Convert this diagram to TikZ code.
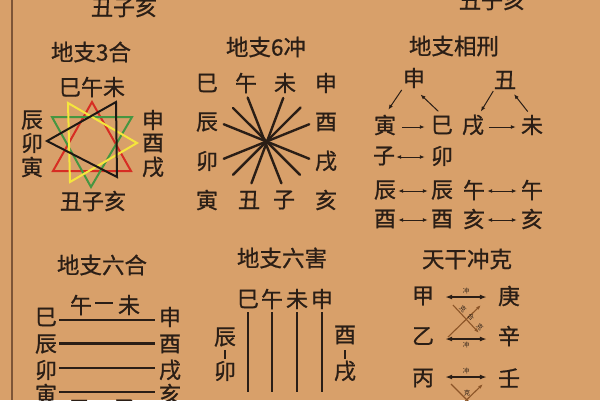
\documentclass[tikz,border=0pt]{standalone}
\usepackage{fontspec}
\newfontfamily\cjk{Noto Sans CJK SC}[FakeBold=0.8]
\newfontfamily\cjksmall{Noto Sans CJK SC}
\usetikzlibrary{arrows.meta,calc}
\definecolor{bg}{RGB}{216,160,106}
\definecolor{ink}{RGB}{42,30,22}
\definecolor{brn}{RGB}{140,85,40}
\definecolor{edge}{RGB}{125,85,55}
\definecolor{tred}{RGB}{215,45,35}
\definecolor{tgreen}{RGB}{70,150,65}
\definecolor{tyellow}{RGB}{245,230,60}
\definecolor{tblack}{RGB}{30,24,20}
\begin{document}
\begin{tikzpicture}[x=1pt,y=-1pt,
  ch/.style={font=\cjk\fontsize{22}{22}\selectfont, text=ink, inner sep=0pt, minimum width=22pt, minimum height=20pt},
  ttl/.style={ch, font=\cjk\fontsize{22.5}{23}\selectfont},
  tiny/.style={font=\cjksmall\fontsize{6.5}{6.5}\selectfont, text=ink, inner sep=0pt},
  spoke/.style={draw=ink, line width=2.4pt, line cap=round},
  rel/.style={draw=ink, line width=1pt, -{Latex[length=5pt,width=4pt]}},
  dbl/.style={draw=ink, line width=1pt, {Latex[length=5pt,width=4pt]}-{Latex[length=5pt,width=4pt]}},
  chong/.style={draw=ink, line width=1.4pt, {Latex[length=7pt,width=5pt]}-{Latex[length=7pt,width=5pt]}},
  ke/.style={draw=brn, line width=1.1pt},
  bar/.style={draw=ink, line width=2.6pt},
  tri/.style={line width=2pt, line join=miter},
]
\useasboundingbox (0,0) rectangle (600,400);
\clip (0,0) rectangle (600,400);
\fill[bg] (0,0) rectangle (600,400);
\draw[edge, line width=1.2pt] (12,0) -- (12,400);

% top partial texts
\node[ch] (t1) at (124,7) {丑子亥};
\node[ch] (t2) at (492,0) {丑子亥};

% ---------- 地支3合 ----------
\node[ttl] (h3) at (91,52) {地支3合};
\node[ch] (sw) at (92,87) {巳午未};
\node[ch] (sChen) at (32,120) {辰};
\node[ch] (sMao) at (32,143) {卯};
\node[ch] (sYin) at (32,167) {寅};
\node[ch] (sShen) at (153,120) {申};
\node[ch] (sYou) at (153,143) {酉};
\node[ch] (sXu) at (153,167) {戌};
\node[ch] (sczh) at (93,201) {丑子亥};
\draw[tri, tred] (92,102) -- (53,171) -- (131,171) -- cycle;
\draw[tri, tgreen] (52,117) -- (132,117) -- (91,187) -- cycle;
\draw[tri, tyellow] (68,103) -- (137,143) -- (70,182) -- cycle;
\draw[tri, tblack] (116,102) -- (47,141) -- (117,177) -- cycle;

% ---------- 地支6冲 ----------
\node[ttl] (h6) at (266,47) {地支6冲};
\node[ch] (cSi) at (207,83) {巳};
\node[ch] (cWu) at (246,83) {午};
\node[ch] (cWei) at (285,83) {未};
\node[ch] (cShen) at (326,83) {申};
\node[ch] (cChen) at (207,122) {辰};
\node[ch] (cYou) at (326,122) {酉};
\node[ch] (cMao) at (207,161) {卯};
\node[ch] (cXu) at (326,161) {戌};
\node[ch] (cYin) at (207,200) {寅};
\node[ch] (cChou) at (249,200) {丑};
\node[ch] (cZi) at (284,200) {子};
\node[ch] (cHai) at (326,200) {亥};
\draw[spoke, shorten <=4.5pt, shorten >=7pt] (cWu.south) -- (cZi.north);
\draw[spoke, shorten <=5pt, shorten >=7pt] (cWei.south) -- (cChou.north);
\draw[spoke, shorten <=21pt, shorten >=21pt] (cSi.south east) -- (cHai.north west);
\draw[spoke, shorten <=20pt, shorten >=21pt] (cShen.south west) -- (cYin.north east);
\draw[spoke, shorten <=6pt, shorten >=6pt] (cChen.east) -- (cXu.west);
\draw[spoke, shorten <=6pt, shorten >=6pt] (cYou.west) -- (cMao.east);

% ---------- 地支相刑 ----------
\node[ttl] (hx) at (454,46) {地支相刑};
\node[ch] (xShen) at (414,78) {申};
\node[ch] (xChou) at (505,80) {丑};
\node[ch] (xYin) at (385,125) {寅};
\node[ch] (xSi) at (442,125) {巳};
\node[ch] (xXu) at (473,125) {戌};
\node[ch] (xWei) at (532,125) {未};
\node[ch] (xZi) at (384,156) {子};
\node[ch] (xMao) at (442,156) {卯};
\node[ch] (xChenA) at (385,190) {辰};
\node[ch] (xChenB) at (442,190) {辰};
\node[ch] (xWuA) at (474,190) {午};
\node[ch] (xWuB) at (532,190) {午};
\node[ch] (xYouA) at (385,219) {酉};
\node[ch] (xYouB) at (442,219) {酉};
\node[ch] (xHaiA) at (474,219) {亥};
\node[ch] (xHaiB) at (532,219) {亥};
\draw[rel, shorten <=2pt, shorten >=6pt] (xShen.south west) -- (xYin.north);
\draw[rel, shorten <=5pt, shorten >=9pt] (xSi.north) -- (xShen.south);
\draw[rel, shorten <=6pt, shorten >=6pt] ([yshift=-2pt]xYin.east) -- ([yshift=-2pt]xSi.west);
\draw[rel, shorten <=1pt, shorten >=3.5pt] (xChou.south west) -- (xXu.60);
\draw[rel, shorten <=4pt, shorten >=5pt] (xWei.100) -- (xChou.-60);
\draw[rel, shorten <=5pt, shorten >=5pt] ([yshift=-2pt]xXu.east) -- ([yshift=-2pt]xWei.west);
\draw[dbl, shorten <=1pt, shorten >=6pt] ([yshift=-1pt]xZi.east) -- ([yshift=-1pt]xMao.west);
\draw[dbl, shorten <=2pt, shorten >=3pt] ([yshift=-1pt]xChenA.east) -- ([yshift=-1pt]xChenB.west);
\draw[dbl, shorten <=2pt, shorten >=3pt] ([yshift=-1pt]xYouA.east) -- ([yshift=-1pt]xYouB.west);
\draw[dbl, shorten <=2pt, shorten >=4pt] ([yshift=-1pt]xWuA.east) -- ([yshift=-1pt]xWuB.west);
\draw[dbl, shorten <=2pt, shorten >=4pt] ([yshift=-1pt]xHaiA.east) -- ([yshift=-1pt]xHaiB.west);

% ---------- 地支六合 ----------
\node[ttl] (hlh) at (102,265) {地支六合};
\node[ch] (hWu) at (81,305) {午};
\node[ch] (hWei) at (129,305) {未};
\draw[draw=ink, line width=2.6pt, shorten <=3pt, shorten >=5pt] ([yshift=2pt]hWu.east) -- ([yshift=2pt]hWei.west);
\node[ch] (hSi) at (46,317) {巳};
\node[ch] (hChen) at (46,344) {辰};
\node[ch] (hMao) at (46,370) {卯};
\node[ch] (hYin) at (46,394) {寅};
\node[ch] (hShen) at (170,317) {申};
\node[ch] (hYou) at (170,344) {酉};
\node[ch] (hXu) at (170,370) {戌};
\node[ch] (hHai) at (170,394) {亥};
\node[ch] (hChou) at (80,409) {丑};
\node[ch] (hZi) at (124,409) {子};
\draw[draw=ink, line width=1.8pt, shorten <=2pt, shorten >=4pt] ([yshift=-3pt]hSi.east) -- ([yshift=-3pt]hShen.west);
\draw[draw=ink, line width=3pt, shorten <=2pt, shorten >=4pt] ([yshift=1pt]hChen.east) -- ([yshift=1pt]hYou.west);
\draw[draw=ink, line width=2pt, shorten <=2pt, shorten >=4pt] ([yshift=2pt]hMao.east) -- ([yshift=2pt]hXu.west);
\draw[draw=ink, line width=2pt, shorten <=2pt, shorten >=4pt] ([yshift=2pt]hYin.east) -- ([yshift=2pt]hHai.west);

% ---------- 地支六害 ----------
\node[ttl] (hlhai) at (282,258) {地支六害};
\node[ch] (aSi) at (248,299) {巳};
\node[ch] (aWu) at (272,299) {午};
\node[ch] (aWei) at (297,299) {未};
\node[ch] (aShen) at (322,299) {申};
\coordinate (aEnd) at (0,392);
\draw[bar, shorten <=3pt] (aSi.south) -- (aSi.south |- aEnd);
\draw[bar, shorten <=3pt] (aWu.south) -- (aWu.south |- aEnd);
\draw[bar, shorten <=3pt] (aWei.south) -- (aWei.south |- aEnd);
\draw[bar, shorten <=3pt] (aShen.south) -- (aShen.south |- aEnd);
\node[ch] (aChen) at (225,337) {辰};
\node[ch] (aMao) at (225,371) {卯};
\node[ch] (aYou) at (345,335) {酉};
\node[ch] (aXu) at (345,371) {戌};
\draw[draw=ink, line width=1.6pt, shorten <=3pt, shorten >=2pt] (aChen.south) -- (aMao.north);
\draw[draw=ink, line width=1.6pt, shorten <=5pt, shorten >=2pt] (aYou.south) -- (aXu.north);

% ---------- 天干冲克 ----------
\node[ttl] (htg) at (467,259) {天干冲克};
\node[ch] (gJia) at (423,296) {甲};
\node[ch] (gGeng) at (509,296) {庚};
\node[ch] (gYi) at (423,336) {乙};
\node[ch] (gXin) at (509,336) {辛};
\node[ch] (gBing) at (423,378) {丙};
\node[ch] (gRen) at (509,378) {壬};
\draw[chong, shorten <=11pt, shorten >=11pt] ([yshift=-1pt]gJia.east) -- ([yshift=-1pt]gGeng.west)
  node[tiny, midway, above=2.5pt] {冲};
\draw[chong, shorten <=11pt, shorten >=11pt] ([yshift=-3pt]gYi.east) -- ([yshift=-3pt]gXin.west)
  node[tiny, midway, below=2.5pt] {冲};
\draw[chong, shorten <=11pt, shorten >=11pt] ([yshift=1pt]gBing.east) -- ([yshift=1pt]gRen.west)
  node[tiny, midway, above=2.5pt] {冲};
\coordinate (k1a) at (448,337);
\coordinate (k1b) at (481,305);
\coordinate (k2a) at (453,305);
\coordinate (k2b) at (479,333);
\draw[ke, -{Latex[length=5pt,width=3.5pt]}] (k1a) -- (k1b);
\draw[ke, -{Latex[length=5pt,width=3.5pt]}] (k2a) -- (k2b);
\node[tiny, rotate=-45] (kl1) at (463,309) {克};
\node[tiny, rotate=-45] (kl2) at (471,317) {合};
\node[tiny, rotate=-45] (kl3) at (480,327) {克};
\coordinate (k3a) at (451,384);
\coordinate (k3b) at (479,412);
\coordinate (k4a) at (454,412);
\coordinate (k4b) at (483,384);
\draw[ke] (k3a) -- (k3b);
\draw[ke, -{Latex[length=5pt,width=3.5pt]}] (k4a) -- (k4b);
\node[tiny] (kl4) at (467,393) {克};
\end{tikzpicture}
\end{document}
